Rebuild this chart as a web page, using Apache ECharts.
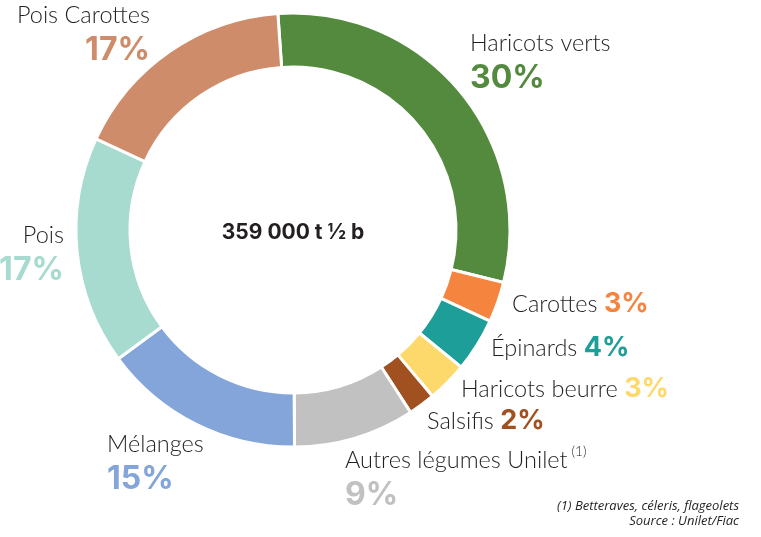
<!DOCTYPE html>
<html><head><meta charset="utf-8">
<script src="https://cdn.jsdelivr.net/npm/echarts@6/dist/echarts.min.js"></script>
<style>html,body{margin:0;padding:0;background:#fff}#c{width:761px;height:537px}</style>
</head><body><div id="c"></div>
<script>
const categories = ['Haricots verts','Carottes','Épinards','Haricots beurre','Salsifis','Autres légumes Unilet','Mélanges','Pois','Pois Carottes'];
const values = [30, 3, 4, 3, 2, 9, 15, 17, 17];
const percentLabels = ['30%','3%','4%','3%','2%','9%','15%','17%','17%'];
const superscripts = ['','','','','','(1)','','',''];
const colors = ['#538a3e','#f5843f','#1e9e98','#fdd96c','#a1501f','#c1c1c1','#84a5d9','#a7dbcf','#cf8c6a'];
const stacked = [true,false,false,false,false,true,true,true,true];
const centerText = '359 000 t ½ b';
const footnotes = ['(1) Betteraves, céleris, flageolets', 'Source : Unilet/Fiac'];

// label anchor layout (x, y top, align)
const labelPos = [
  [470, 28, 'left'],
  [512, 289, 'left'],
  [491, 333, 'left'],
  [461, 374, 'left'],
  [427, 406, 'left'],
  [345, 445, 'left'],
  [107, 429, 'left'],
  [64, 220, 'right'],
  [150, 0, 'right']
];

const rich = {
  n: {fontFamily:'Lato', fontWeight:300, fontSize:23.5, color:'#231f20', lineHeight:30},
  s: {fontFamily:'Lato', fontWeight:300, fontSize:13.5, color:'#231f20', lineHeight:30, verticalAlign:'top', padding:[0,0,0,4]}
};
colors.forEach((c, i) => {
  rich['p' + i] = {fontFamily:'Inter', fontWeight:'bold', fontSize:32, color:c, lineHeight:40};
  rich['q' + i] = {fontFamily:'Inter', fontWeight:'bold', fontSize:27, color:c, lineHeight:30};
});

const chart = echarts.init(document.getElementById('c'));
chart.setOption({
  animation:false,
  series:[{
    type:'pie',
    center:[293, 230],
    radius:[163, 217],
    startAngle:94,
    clockwise:true,
    itemStyle:{borderColor:'#fff', borderWidth:3},
    labelLine:{show:false},
    label:{
      show:true,
      position:'outside',
      overflow:'none',
      alignTo:'none',
      formatter: (p) => {
        const i = p.dataIndex;
        const sup = superscripts[i] ? '{s|' + superscripts[i] + '}' : '';
        if (stacked[i]) return '{n|' + categories[i] + '}' + sup + '\n{p' + i + '|' + percentLabels[i] + '}';
        return '{n|' + categories[i] + ' }{q' + i + '|' + percentLabels[i] + '}';
      },
      rich: rich
    },
    labelLayout: (p) => {
      const lp = labelPos[p.dataIndex];
      return {x: lp[0], y: lp[1], align: lp[2], verticalAlign: 'top', hideOverlap:false};
    },
    emphasis:{disabled:true},
    data: categories.map((n, i) => ({name:n, value:values[i], itemStyle:{color:colors[i]}}))
  }],
  graphic:[
    {type:'text', x:293, y:233, style:{text:centerText, align:'center', verticalAlign:'middle', font:'bold 21px Inter', fill:'#231f20'}},
    {type:'text', x:739, y:499, style:{text:footnotes.join('\n'), align:'right', verticalAlign:'top', font:'italic 13px "Open Sans"', lineHeight:15, fill:'#231f20'}}
  ]
});
</script></body></html>
